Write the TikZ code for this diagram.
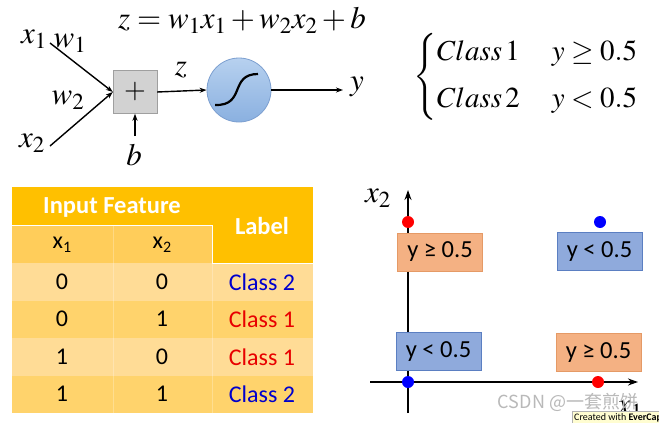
\documentclass[tikz,border=0pt]{standalone}
\usepackage{mathptmx}
\usepackage{fontspec}
\setmainfont{Carlito}
\newfontfamily\cjkwm{Noto Sans CJK SC}
\usetikzlibrary{arrows.meta,shadings}
\definecolor{hdr}{HTML}{FFC000}
\definecolor{sub}{HTML}{FFCD5A}
\definecolor{rowlight}{HTML}{FFDC96}
\definecolor{rowmid}{HTML}{FFD36C}
\definecolor{salmon}{HTML}{F4B183}
\definecolor{salmonb}{HTML}{E59A66}
\definecolor{bluebox}{HTML}{8FAADC}
\definecolor{blueboxb}{HTML}{5B7FC2}
\definecolor{ctop}{HTML}{B7D1EF}
\definecolor{cbot}{HTML}{8AB0E0}
\definecolor{cedge}{HTML}{7C9FD0}
\definecolor{clsblue}{HTML}{0000CC}
\definecolor{clsred}{HTML}{E80000}
\tikzset{
  conn/.style={line width=1.4pt,-{Stealth[length=7pt,width=5pt]}},
  axis/.style={line width=2.2pt,-{Stealth[length=10pt,width=7pt]}},
  mlabel/.style={inner sep=0pt,font=\fontsize{31}{33}\selectfont},
  regbox/.style={minimum width=85pt,minimum height=38pt,inner sep=0pt,line width=0.8pt,font=\fontsize{24.5}{26}\selectfont},
  hibox/.style={regbox,fill=salmon,draw=salmonb},
  lobox/.style={regbox,fill=bluebox,draw=blueboxb},
  dot/.style={circle,inner sep=0pt,minimum size=12pt},
  cell/.style={inner sep=0pt,font=\fontsize{24}{26}\selectfont},
  hcell/.style={inner sep=0pt,text=white,font=\fontsize{24.5}{26}\selectfont\bfseries},
}
\begin{document}
\begin{tikzpicture}[x=1pt,y=-1pt]
\fill[white] (0,0) rectangle (659,423);
\useasboundingbox (0,0) rectangle (659,423);

% ---------- neuron ----------
\node[inner sep=0pt,font=\fontsize{31}{33}\selectfont] (eq) at (242,20) {$z=w_1x_1+w_2x_2+b$};
\node[mlabel] (x1) at (34,39) {$x_1$};
\node[mlabel] (w1) at (70,43) {$w_1$};
\node[mlabel] (w2) at (68,100) {$w_2$};
\node[mlabel] (x2) at (32,143) {$x_2$};
\node[draw=gray!75,fill=gray!35,minimum width=44pt,minimum height=43pt,inner sep=0pt,font=\fontsize{28}{30}\selectfont] (sum) at (135,92) {$+$};
\coordinate (x1end) at (50,43);
\coordinate (x2end) at (50,146);
\draw[conn] (x1end) -- (sum.west);
\draw[conn] (x2end) -- (sum.west);
\coordinate (bend) at (135,136);
\draw[conn] (bend) -- (sum.south);
\node[mlabel] (b) at (134,155) {$b$};
\node[circle,minimum size=64pt,inner sep=0pt,draw=cedge,line width=0.8pt,top color=ctop,bottom color=cbot] (act) at (239,90) {};
\draw[line width=2.2pt] (215,105) .. controls (246,106) and (229,74) .. (258,74);
\draw[conn] (sum.east) -- (act.west);
\node[mlabel] (z) at (181,70) {$z$};
\coordinate (yend) at (343,90);
\draw[conn] (act.east) -- (yend);
\node[mlabel] (y) at (357,87) {$y$};

% ---------- cases ----------
\node[inner sep=0pt,font=\fontsize{29}{33}\selectfont] (cases) at (526,77)
 {$\left\{\begin{array}{@{}l@{\hspace{32pt}}l@{}} Class\,1 & y\geq 0.5\\[14pt] Class\,2 & y<0.5\end{array}\right.$};

% ---------- table ----------
\fill[hdr] (12,187) rectangle (313,263);
\fill[sub] (12,225) rectangle (212,263);
\fill[rowlight] (12,263) rectangle (313,300.5);
\fill[rowmid] (12,300.5) rectangle (313,338);
\fill[rowlight] (12,338) rectangle (313,375.5);
\fill[rowmid] (12,375.5) rectangle (313,413);
\draw[white,opacity=0.25,line width=0.6pt] (113,225) -- (113,413) (212,263) -- (212,413);
\draw[white,line width=1pt] (12,225) -- (212,225) -- (212,263) -- (313,263);
\node[hcell] (hin) at (112,207) {Input Feature};
\node[hcell] (hlab) at (262,226) {Label};
\node[cell] (hx1) at (62,245) {x\raisebox{-0.35ex}{\fontsize{16}{16}\selectfont 1}};
\node[cell] (hx2) at (162,245) {x\raisebox{-0.35ex}{\fontsize{16}{16}\selectfont 2}};
\node[cell] (a1) at (62,282) {0};   \node[cell] (b1) at (162,282) {0};   \node[cell,text=clsblue] (c1) at (262,282) {Class 2};
\node[cell] (a2) at (62,319) {0};   \node[cell] (b2) at (162,319) {1};   \node[cell,text=clsred] (c2) at (262,319) {Class 1};
\node[cell] (a3) at (62,357) {1};   \node[cell] (b3) at (162,357) {0};   \node[cell,text=clsred] (c3) at (262,357) {Class 1};
\node[cell] (a4) at (62,394) {1};   \node[cell] (b4) at (162,394) {1};   \node[cell,text=clsblue] (c4) at (262,394) {Class 2};

% ---------- plot ----------
\coordinate (ybot) at (408,413);
\coordinate (ytop) at (408,190);
\coordinate (xleft) at (370,382);
\coordinate (xright) at (638,382);
\draw[axis] (ybot) -- (ytop);
\draw[axis] (xleft) -- (xright);
\node[inner sep=0pt,font=\fontsize{31}{33}\selectfont] (ax2) at (378,198) {$x_2$};
\node[inner sep=0pt,font=\fontsize{31}{33}\selectfont] (ax1) at (630,410) {$x_1$};
\node[hibox] (r1) at (440,252) {y ≥ 0.5};
\node[lobox] (r2) at (599.5,251.5) {y < 0.5};
\node[lobox] (r3) at (438.5,351.5) {y < 0.5};
\node[hibox] (r4) at (598.5,352.5) {y ≥ 0.5};
\node[dot,fill=red] (p01) at (408,222) {};
\node[dot,fill=blue] (p11) at (600,222) {};
\node[dot,fill=blue] (p00) at (408,382) {};
\node[dot,fill=red] (p10) at (598,382) {};

% ---------- screen overlays ----------
\node[inner sep=0pt,text=gray!55,font=\cjkwm\fontsize{18}{19}\selectfont] (wm) at (568,402) {CSDN @一套煎饼};
\begin{scope}
\clip (0,0) rectangle (659,423);
\node[draw=gray!60,fill=yellow!18,anchor=north west,inner sep=2pt,font=\fontsize{10}{11}\selectfont] (tip) at (572,411) {Created with \textbf{EverCapture}};
\end{scope}
\end{tikzpicture}
\end{document}
